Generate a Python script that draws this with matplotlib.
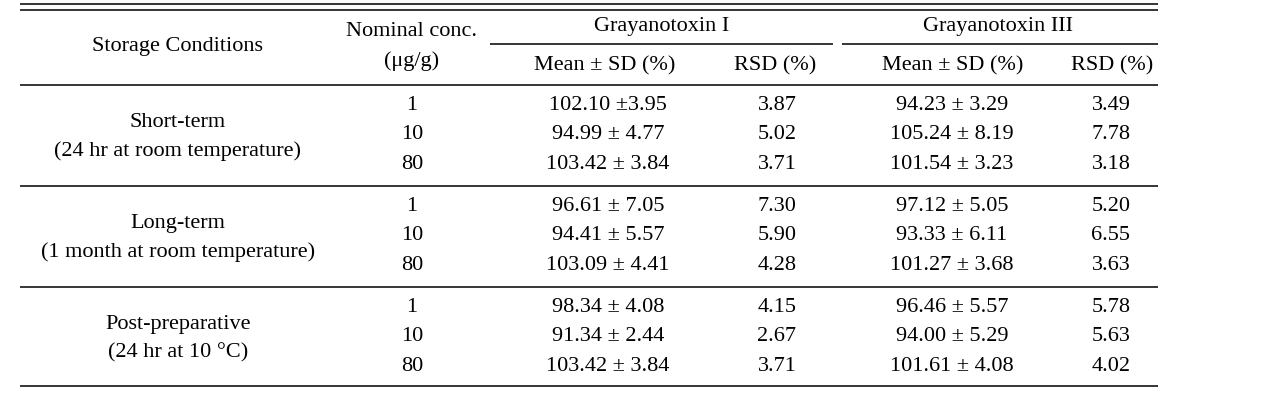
import matplotlib
matplotlib.use("Agg")
import matplotlib.pyplot as plt

# Table content
conditions = ["Short-term", "Long-term", "Post-preparative"]
condition_notes = ["(24 hr at room temperature)",
                   "(1 month at room temperature)",
                   "(24 hr at 10 \u00b0C)"]
nominal_conc = ["1", "10", "80"]

gt1_mean = [["102.10 \u00b13.95", "94.99 \u00b1 4.77", "103.42 \u00b1 3.84"],
            ["96.61 \u00b1 7.05", "94.41 \u00b1 5.57", "103.09 \u00b1 4.41"],
            ["98.34 \u00b1 4.08", "91.34 \u00b1 2.44", "103.42 \u00b1 3.84"]]
gt1_rsd = [["3.87", "5.02", "3.71"],
           ["7.30", "5.90", "4.28"],
           ["4.15", "2.67", "3.71"]]
gt3_mean = [["94.23 \u00b1 3.29", "105.24 \u00b1 8.19", "101.54 \u00b1 3.23"],
            ["97.12 \u00b1 5.05", "93.33 \u00b1 6.11", "101.27 \u00b1 3.68"],
            ["96.46 \u00b1 5.57", "94.00 \u00b1 5.29", "101.61 \u00b1 4.08"]]
gt3_rsd = [["3.49", "7.78", "3.18"],
           ["5.20", "6.55", "3.63"],
           ["5.78", "5.63", "4.02"]]

# Layout (pixel coordinates)
W, H = 1266, 406
x_left, x_right = 20, 1158
col_x = {"cond": 178, "conc": 412, "m1": 608, "r1": 777, "m3": 952, "r3": 1111}
group_tops = [86, 187, 288]
row_gap = 29.5
first_row_off = 19.5

fig = plt.figure(figsize=(W / 100, H / 100), dpi=100)
ax = fig.add_axes([0, 0, 1, 1])
ax.set_xlim(0, W)
ax.set_ylim(H, 0)
ax.axis("off")

fs = 16
kw = dict(fontsize=fs, family="Liberation Serif", ha="center", va="center",
          color="black")
lw = 1.1

# rules
ax.hlines([5, 10.5], x_left, x_right, color="black", lw=lw)
ax.hlines(45, 490, 833, color="black", lw=lw)
ax.hlines(45, 842, x_right, color="black", lw=lw)
ax.hlines([86, 187, 288, 387], x_left, x_right, color="black", lw=lw)

# header
ax.text(col_x["cond"], 46, "Storage Conditions", **kw)
ax.text(col_x["conc"], 31, "Nominal conc.", **kw)
ax.text(col_x["conc"], 61, "(\u03bcg/g)", **kw)
ax.text(662, 26, "Grayanotoxin I", **kw)
ax.text(998, 26, "Grayanotoxin III", **kw)
ax.text(605, 66, "Mean \u00b1 SD (%)", **kw)
ax.text(775, 66, "RSD (%)", **kw)
ax.text(953, 66, "Mean \u00b1 SD (%)", **kw)
ax.text(1112, 66, "RSD (%)", **kw)

# body
for g in range(3):
    top = group_tops[g]
    ax.text(col_x["cond"], top + 36.5, conditions[g], **kw)
    ax.text(col_x["cond"], top + 65, condition_notes[g], **kw)
    for r in range(3):
        y = top + first_row_off + r * row_gap
        ax.text(col_x["conc"], y, nominal_conc[r], **kw)
        ax.text(col_x["m1"], y, gt1_mean[g][r], **kw)
        ax.text(col_x["r1"], y, gt1_rsd[g][r], **kw)
        ax.text(col_x["m3"], y, gt3_mean[g][r], **kw)
        ax.text(col_x["r3"], y, gt3_rsd[g][r], **kw)

fig.savefig("out.png", dpi=100, facecolor="white")
